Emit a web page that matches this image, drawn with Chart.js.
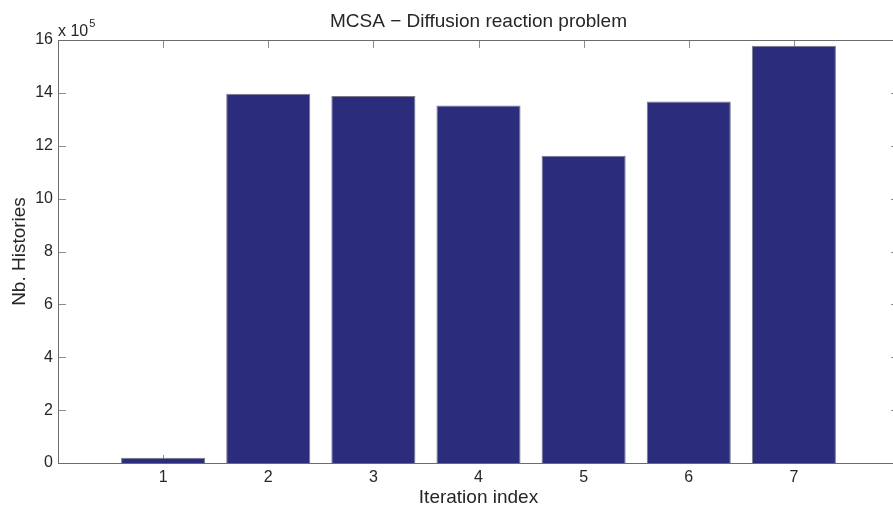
<!DOCTYPE html>
<html>
<head>
<meta charset="utf-8">
<script src="https://cdn.jsdelivr.net/npm/chart.js@4/dist/chart.umd.min.js"></script>
<style>
  html, body { margin: 0; padding: 0; background: #fff; overflow: hidden; }
  #wrap { width: 904px; height: 508px; }
</style>
</head>
<body>
<div id="wrap"><canvas id="barChart" width="904" height="508"></canvas></div>
<script>
// Data (y in raw histories, axis shown as x 10^5)
const iterations = [1, 2, 3, 4, 5, 6, 7];
const histories = [20000, 1397000, 1388000, 1352000, 1162000, 1367000, 1578000];
const yTickLabels = [0, 2, 4, 6, 8, 10, 12, 14, 16];
const yMultiplier = 1e5;
const chartTitle = 'MCSA \u2212 Diffusion reaction problem';

const FONT = '"Liberation Sans", Arial, Helvetica, sans-serif';
const AXIS_COLOR = '#6c6c6c';
const TICK_COLOR = '#8c8c8c';
const TEXT_COLOR = '#262626';

// MATLAB style box with inward ticks, exponent label and title over the axes
const boxPlugin = {
    id: 'matlabBox',
    beforeDatasetsDraw(chart) {
        const { ctx, chartArea: a, scales } = chart;
        const len = 8;
        ctx.save();
        ctx.strokeStyle = TICK_COLOR;
        ctx.lineWidth = 1;
        ctx.beginPath();
        iterations.forEach(v => {
            const x = Math.round(scales.x.getPixelForValue(v)) + 0.5;
            ctx.moveTo(x, a.bottom); ctx.lineTo(x, a.bottom - len);
            ctx.moveTo(x, a.top); ctx.lineTo(x, a.top + len);
        });
        yTickLabels.forEach(v => {
            const y = Math.round(scales.y.getPixelForValue(v * yMultiplier)) + 0.5;
            ctx.moveTo(a.left, y); ctx.lineTo(a.left + len, y);
            ctx.moveTo(a.right, y); ctx.lineTo(a.right - len, y);
        });
        ctx.stroke();
        ctx.restore();
    },
    afterDraw(chart) {
        const { ctx, chartArea: a } = chart;
        ctx.save();
        ctx.strokeStyle = AXIS_COLOR;
        ctx.lineWidth = 1;
        ctx.strokeRect(Math.round(a.left) + 0.5, Math.round(a.top) + 0.5,
            Math.round(a.right - a.left), Math.round(a.bottom - a.top));

        ctx.fillStyle = TEXT_COLOR;
        ctx.textBaseline = 'alphabetic';

        // title, centred over the axes box
        ctx.textAlign = 'center';
        ctx.font = '19px ' + FONT;
        ctx.fillText(chartTitle, (a.left + a.right) / 2, 27);

        // "x 10^5"
        ctx.textAlign = 'left';
        ctx.font = '16px ' + FONT;
        ctx.fillText('x 10', a.left, a.top - 4);
        const w = ctx.measureText('x 10').width;
        ctx.font = '11px ' + FONT;
        ctx.fillText('5', a.left + w + 1, a.top - 13);
        ctx.restore();
    }
};

const ctx = document.getElementById('barChart').getContext('2d');
new Chart(ctx, {
    type: 'bar',
    data: {
        datasets: [{
            data: iterations.map((it, i) => ({ x: it, y: histories[i] })),
            backgroundColor: '#2b2d7c',
            borderColor: '#7a7a8c',
            borderWidth: 1,
            barPercentage: 0.8,
            categoryPercentage: 1.0
        }]
    },
    options: {
        responsive: false,
        animation: false,
        layout: { autoPadding: false, padding: { left: 0, right: 2, top: 40, bottom: 0 } },
        plugins: {
            legend: { display: false },
            tooltip: { enabled: false },
            title: { display: false }
        },
        scales: {
            x: {
                type: 'linear',
                min: 0,
                max: 8,
                offset: false,
                grid: { display: false, drawTicks: false, offset: false },
                border: { display: false },
                ticks: {
                    stepSize: 1,
                    autoSkip: false,
                    maxRotation: 0,
                    padding: 5,
                    color: TEXT_COLOR,
                    font: { family: FONT, size: 16 },
                    callback: v => iterations.includes(v) ? String(v) : ''
                },
                title: {
                    display: true,
                    text: 'Iteration index',
                    color: TEXT_COLOR,
                    font: { family: FONT, size: 19, lineHeight: 1.2 },
                    padding: { top: 0, bottom: -1 }
                },
                afterFit: s => { s.height = 45; }
            },
            y: {
                min: 0,
                max: 16 * yMultiplier,
                grid: { display: false, drawTicks: false },
                border: { display: false },
                ticks: {
                    stepSize: 2 * yMultiplier,
                    padding: 5,
                    color: TEXT_COLOR,
                    font: { family: FONT, size: 16 },
                    callback: v => String(Math.round(v / yMultiplier))
                },
                title: {
                    display: true,
                    text: 'Nb. Histories',
                    color: TEXT_COLOR,
                    font: { family: FONT, size: 19, lineHeight: 1.2 },
                    padding: { top: 8.7, bottom: 0 }
                },
                afterFit: s => { s.width = 58; }
            }
        }
    },
    plugins: [boxPlugin]
});
</script>
</body>
</html>
